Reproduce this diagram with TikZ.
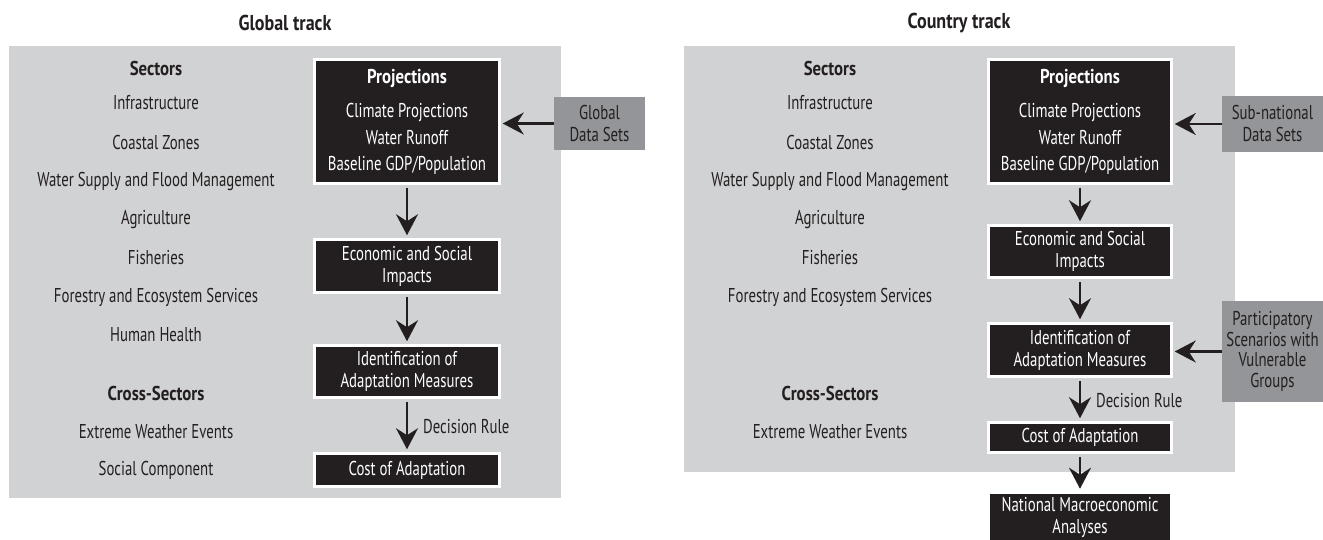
\documentclass[tikz,border=0pt]{standalone}
\usepackage{fontspec}
\setmainfont{PT Sans}[FakeStretch=0.74, BoldFeatures={FakeStretch=0.84}]
\usetikzlibrary{arrows.meta}
\definecolor{panel}{HTML}{D1D2D4}
\definecolor{dark}{HTML}{231F20}
\definecolor{datagray}{HTML}{939598}
\begin{document}
\begin{tikzpicture}[x=1pt,y=-1pt,
  basefont/.style={font=\fontsize{20}{22}\selectfont},
  lbl/.style={basefont, text=dark, inner sep=0pt},
  hdr/.style={font=\fontsize{20}{22}\selectfont\bfseries, text=dark, inner sep=0pt},
  ttl/.style={font=\fontsize{21.5}{24}\selectfont\bfseries, text=dark, inner sep=0pt},
  blackbox/.style={basefont, fill=dark, draw=white, line width=2.5pt, text=white, align=center, inner sep=0pt},
  databox/.style={basefont, fill=datagray, text=dark, align=center, inner sep=0pt},
  flow/.style={-{Stealth[length=21pt,width=22pt,inset=7pt]}, line width=2.3pt, draw=dark, shorten <=3pt, shorten >=3pt}]
\useasboundingbox (0,0) rectangle (1323,540);

% ---------------- Global track ----------------
\node[ttl] (gtitle) at (285,23) {Global track};
\fill[panel] (9,46) rectangle (561,498);

\node[hdr] (gsec) at (156,69) {Sectors};
\node[lbl] (g1) at (156,103) {Infrastructure};
\node[lbl] (g2) at (156,143) {Coastal Zones};
\node[lbl] (g3) at (156,182) {Water Supply and Flood Management};
\node[lbl] (g4) at (156,220) {Agriculture};
\node[lbl] (g5) at (156,258) {Fisheries};
\node[lbl] (g6) at (156,297) {Forestry and Ecosystem Services};
\node[lbl] (g7) at (156,335) {Human Health};
\node[hdr] (gcross) at (156,393) {Cross-Sectors};
\node[lbl] (g8) at (156,432) {Extreme Weather Events};
\node[lbl] (g9) at (156,470) {Social Component};

\node[blackbox, minimum width=185pt, minimum height=124pt] (gproj) at (407,121.5)
  {{\bfseries Projections}\\[12pt]Climate Projections\\[5pt]Water Runoff\\[4pt]Baseline GDP/Population};
\node[blackbox, minimum width=185pt, minimum height=53pt] (gecon) at (407,266)
  {Economic and Social\\Impacts};
\node[blackbox, minimum width=185pt, minimum height=52pt] (gident) at (407,371.5)
  {Identification of\\Adaptation Measures};
\node[blackbox, minimum width=185pt, minimum height=33pt] (gcost) at (407,470)
  {Cost of Adaptation};
\node[databox, minimum width=91pt, minimum height=53pt] (gdata) at (599.5,123.5)
  {Global\\Data Sets};

\draw[flow] (gproj) -- (gecon);
\draw[flow] (gecon) -- (gident);
\draw[flow] (gident) -- node[lbl, anchor=west, xshift=15pt, yshift=-1pt] (grule) {Decision Rule} (gcost);
\draw[flow, shorten <=0pt, shorten >=2pt] (gdata.west) -- (gdata.west -| gproj.east);

% ---------------- Country track ----------------
\node[ttl] (ctitle) at (959,23) {Country track};
\fill[panel] (684,46) rectangle (1235,472);

\node[hdr] (csec) at (830,69) {Sectors};
\node[lbl] (c1) at (830,103) {Infrastructure};
\node[lbl] (c2) at (830,143) {Coastal Zones};
\node[lbl] (c3) at (830,182) {Water Supply and Flood Management};
\node[lbl] (c4) at (830,220) {Agriculture};
\node[lbl] (c5) at (830,258) {Fisheries};
\node[lbl] (c6) at (830,297) {Forestry and Ecosystem Services};
\node[hdr] (ccross) at (830,393) {Cross-Sectors};
\node[lbl] (c8) at (830,432) {Extreme Weather Events};

\node[blackbox, minimum width=183pt, minimum height=124pt] (cproj) at (1080,121.5)
  {{\bfseries Projections}\\[12pt]Climate Projections\\[5pt]Water Runoff\\[4pt]Baseline GDP/Population};
\node[blackbox, minimum width=183pt, minimum height=52pt] (cecon) at (1080,251.5)
  {Economic and Social\\Impacts};
\node[blackbox, minimum width=183pt, minimum height=53pt] (cident) at (1080,350)
  {Identification of\\Adaptation Measures};
\node[blackbox, minimum width=183pt, minimum height=30pt] (ccost) at (1080,437.5)
  {Cost of Adaptation};
\node[blackbox, minimum width=183pt, minimum height=48pt] (cnat) at (1080,517)
  {National Macroeconomic\\Analyses};
\node[databox, minimum width=101pt, minimum height=56pt] (cdata) at (1272.5,124)
  {Sub-national\\Data Sets};
\node[databox, minimum width=101pt, minimum height=101pt, font=\fontsize{20}{20.5}\selectfont] (cpart) at (1272.5,351.5)
  {Participatory\\Scenarios with\\Vulnerable\\Groups};

\draw[flow] (cproj) -- (cecon);
\draw[flow] (cecon) -- (cident);
\draw[flow] (cident) -- node[lbl, anchor=west, xshift=15pt, yshift=-1pt] (crule) {Decision Rule} (ccost);
\draw[flow] (ccost) -- (cnat);
\draw[flow, shorten <=0pt, shorten >=2pt] (cdata.west) -- (cdata.west -| cproj.east);
\draw[flow, shorten <=0pt, shorten >=2pt] (cpart.west) -- (cpart.west -| cident.east);
\end{tikzpicture}
\end{document}
